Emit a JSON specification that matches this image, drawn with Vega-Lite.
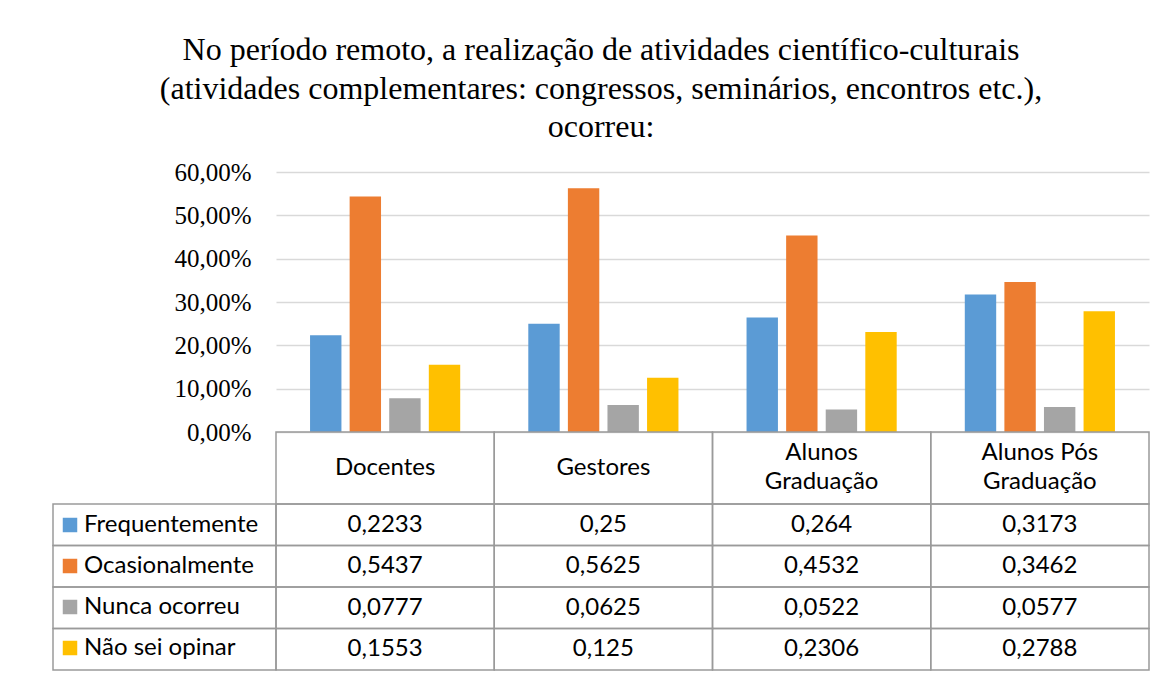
{
  "$schema": "https://vega.github.io/schema/vega-lite/v6.json",
  "padding": {"left": 52, "top": 34, "right": 10, "bottom": 4},
  "background": "white",
  "datasets": {
    "dados": [
      {"grupo": "Docentes", "serie": "Frequentemente", "valor": 0.2233},
      {"grupo": "Docentes", "serie": "Ocasionalmente", "valor": 0.5437},
      {"grupo": "Docentes", "serie": "Nunca ocorreu", "valor": 0.0777},
      {"grupo": "Docentes", "serie": "Não sei opinar", "valor": 0.1553},
      {"grupo": "Gestores", "serie": "Frequentemente", "valor": 0.25},
      {"grupo": "Gestores", "serie": "Ocasionalmente", "valor": 0.5625},
      {"grupo": "Gestores", "serie": "Nunca ocorreu", "valor": 0.0625},
      {"grupo": "Gestores", "serie": "Não sei opinar", "valor": 0.125},
      {"grupo": "Alunos Graduação", "serie": "Frequentemente", "valor": 0.264},
      {"grupo": "Alunos Graduação", "serie": "Ocasionalmente", "valor": 0.4532},
      {"grupo": "Alunos Graduação", "serie": "Nunca ocorreu", "valor": 0.0522},
      {"grupo": "Alunos Graduação", "serie": "Não sei opinar", "valor": 0.2306},
      {"grupo": "Alunos Pós Graduação", "serie": "Frequentemente", "valor": 0.3173},
      {"grupo": "Alunos Pós Graduação", "serie": "Ocasionalmente", "valor": 0.3462},
      {"grupo": "Alunos Pós Graduação", "serie": "Nunca ocorreu", "valor": 0.0577},
      {"grupo": "Alunos Pós Graduação", "serie": "Não sei opinar", "valor": 0.2788}
    ],
    "grupos": [
      {"grupo": "Docentes", "rotulo": "Docentes"},
      {"grupo": "Gestores", "rotulo": "Gestores"},
      {"grupo": "Alunos Graduação", "rotulo": "Alunos\nGraduação"},
      {"grupo": "Alunos Pós Graduação", "rotulo": "Alunos Pós\nGraduação"}
    ],
    "series": [
      {"serie": "Frequentemente"},
      {"serie": "Ocasionalmente"},
      {"serie": "Nunca ocorreu"},
      {"serie": "Não sei opinar"}
    ]
  },
  "title": {
    "text": ["No período remoto, a realização de atividades científico-culturais", "(atividades complementares: congressos, seminários, encontros etc.),", "ocorreu:"],
    "font": "Liberation Serif",
    "fontSize": 32,
    "fontWeight": "normal",
    "color": "#000000",
    "lineHeight": 38.5,
    "anchor": "middle",
    "offset": 16
  },
  "columns": 2,
  "spacing": 0,
  "bounds": "flush",
  "align": "each",
  "resolve": {"scale": {"color": "independent", "x": "independent", "y": "independent"}, "legend": {"color": "independent"}},
  "concat": [
    {
      "width": 223,
      "height": 260,
      "data": {"values": [{}]},
      "mark": {"type": "text", "text": ""},
      "encoding": {}
    },
    {
      "width": 873,
      "height": 260,
      "data": {"name": "dados"},
      "mark": {"type": "bar"},
      "encoding": {
        "x": {
          "field": "grupo", "type": "nominal",
          "sort": ["Docentes", "Gestores", "Alunos Graduação", "Alunos Pós Graduação"],
          "scale": {"paddingInner": 0, "paddingOuter": 0},
          "axis": null
        },
        "xOffset": {
          "field": "serie", "type": "nominal",
          "sort": ["Frequentemente", "Ocasionalmente", "Nunca ocorreu", "Não sei opinar"],
          "scale": {"paddingInner": 0.207, "paddingOuter": 0.86}
        },
        "y": {
          "field": "valor", "type": "quantitative",
          "scale": {"domain": [0, 0.6], "nice": false},
          "axis": {
            "title": null,
            "format": ".2%",
            "values": [0, 0.1, 0.2, 0.3, 0.4, 0.5, 0.6],
            "grid": true,
            "gridColor": "#d9d9d9",
            "gridWidth": 1.5,
            "domain": false,
            "ticks": false,
            "tickSize": 0,
            "labelPadding": 25,
            "labelFont": "Liberation Serif",
            "labelFontSize": 25,
            "labelColor": "#000000"
          }
        },
        "color": {
          "field": "serie", "type": "nominal",
          "scale": {
            "domain": ["Frequentemente", "Ocasionalmente", "Nunca ocorreu", "Não sei opinar"],
            "range": ["#5B9BD5", "#ED7D31", "#A5A5A5", "#FFC000"]
          },
          "legend": {
            "orient": "none",
            "legendX": -218,
            "legendY": 341,
            "title": null,
            "symbolType": "square",
            "symbolSize": 210,
            "symbolStrokeWidth": 0,
            "labelFont": "Lato",
            "labelFontSize": 24,
            "labelColor": "#000000",
            "labelOffset": 2,
            "rowPadding": 17,
            "padding": 0,
            "labelLimit": 300
          }
        }
      }
    },
    {
      "width": 223,
      "height": 72,
      "data": {"values": [{}]},
      "mark": {"type": "text", "text": ""},
      "encoding": {}
    },
    {
      "width": 873,
      "height": 72,
      "data": {"name": "grupos"},
      "encoding": {
        "x": {
          "field": "grupo", "type": "nominal",
          "sort": ["Docentes", "Gestores", "Alunos Graduação", "Alunos Pós Graduação"],
          "scale": {"paddingInner": 0, "paddingOuter": 0},
          "axis": null
        }
      },
      "layer": [
        {"mark": {"type": "rect", "filled": false, "stroke": "#9a9a9a", "strokeWidth": 1.5}},
        {
          "transform": [{"filter": "indexof(datum.rotulo, '\\n') < 0"}],
          "mark": {"type": "text", "font": "Lato", "fontSize": 24, "color": "#000000", "baseline": "middle", "align": "center"},
          "encoding": {"text": {"field": "rotulo"}}
        },
        {
          "transform": [{"filter": "indexof(datum.rotulo, '\\n') >= 0"}],
          "mark": {"type": "text", "font": "Lato", "fontSize": 24, "color": "#000000", "baseline": "middle", "align": "center", "lineBreak": "\n", "lineHeight": 29, "dy": -15},
          "encoding": {"text": {"field": "rotulo"}}
        }
      ]
    },
    {
      "width": 223,
      "height": 166,
      "data": {"name": "series"},
      "mark": {"type": "rect", "filled": false, "stroke": "#9a9a9a", "strokeWidth": 1.5},
      "encoding": {
        "y": {
          "field": "serie", "type": "nominal",
          "sort": ["Frequentemente", "Ocasionalmente", "Nunca ocorreu", "Não sei opinar"],
          "scale": {"paddingInner": 0, "paddingOuter": 0},
          "axis": null
        }
      }
    },
    {
      "width": 873,
      "height": 166,
      "data": {"name": "dados"},
      "encoding": {
        "x": {
          "field": "grupo", "type": "nominal",
          "sort": ["Docentes", "Gestores", "Alunos Graduação", "Alunos Pós Graduação"],
          "scale": {"paddingInner": 0, "paddingOuter": 0},
          "axis": null
        },
        "y": {
          "field": "serie", "type": "nominal",
          "sort": ["Frequentemente", "Ocasionalmente", "Nunca ocorreu", "Não sei opinar"],
          "scale": {"paddingInner": 0, "paddingOuter": 0},
          "axis": null
        }
      },
      "layer": [
        {"mark": {"type": "rect", "filled": false, "stroke": "#9a9a9a", "strokeWidth": 1.5}},
        {
          "mark": {"type": "text", "font": "Lato", "fontSize": 24, "color": "#000000", "baseline": "middle", "align": "center"},
          "encoding": {"text": {"field": "valor", "type": "quantitative", "format": ".4~f"}}
        }
      ]
    }
  ],
  "config": {
    "view": {"stroke": null},
    "locale": {
      "number": {"decimal": ",", "thousands": ".", "grouping": [3], "currency": ["R$", ""]}
    }
  }
}
